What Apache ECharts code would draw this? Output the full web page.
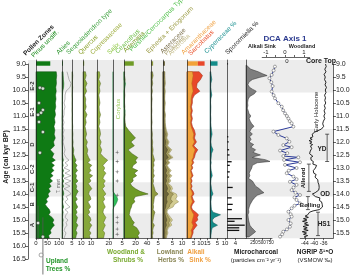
<!DOCTYPE html>
<html>
<head>
<meta charset="utf-8">
<title>Pollen diagram</title>
<style>html,body{margin:0;padding:0;background:#fff;}</style>
</head>
<body>
<div id="main" style="width:350px;height:278px;"></div>
<script src="https://cdn.jsdelivr.net/npm/echarts@6/dist/echarts.min.js"></script>
<script>
// ---- data ----
var ages = [9.3, 9.45, 9.6, 9.75, 9.9, 10.05, 10.2, 10.35, 10.5, 10.65, 10.8, 10.95, 11.1, 11.25, 11.4, 11.55, 11.7, 11.85, 12.0, 12.15, 12.3, 12.45, 12.6,
  12.7, 12.8, 12.9, 13.0, 13.1, 13.2, 13.3, 13.4, 13.5, 13.6, 13.7, 13.8, 13.9, 14.0, 14.1, 14.2, 14.3, 14.4, 14.5, 14.6, 14.7, 14.8, 14.9, 15.0, 15.1, 15.2, 15.3, 15.4, 15.5, 15.6, 15.7];
var trees = [88, 90, 88, 89, 86, 88, 85, 87, 84, 86, 82, 85, 80, 83, 78, 82, 79, 84, 76, 80, 62, 78, 70,
  84, 66, 80, 68, 78, 64, 74, 60, 72, 58, 66, 55, 62, 52, 56, 44, 50, 40, 48, 58, 62, 55, 70, 78, 72, 80, 70, 62, 66, 55, 58];
var abies = [0.5, 0.6, 0.7, 0.9, 0.8, 0.4, 0.3, 0.3, 0.2, 0.3, 0.2, 0.2, 0.1, 0.2, 0.1, 0.2, 0.1, 0.2, 0.1, 0.2, 0.3, 0.2, 0.4,
  0.7, 0.3, 0.6, 0.2, 0.8, 0.3, 0.9, 0.2, 0.9, 0.3, 0.8, 0.2, 0.7, 0.9, 0.4, 0.6, 0.3, 0.5, 0.8, 0.3, 0.6, 0.4, 0.3, 0.6, 0.4, 0.5, 0.3, 0.2, 0.4, 0.3, 0.2];
var sequoia = [0.5, 0.8, 0.6, 0.4, 0.7, 0.5, 0.3, 0.6, 0.4, 0.5, 0.3, 0.6, 0.4, 0.5, 0.8, 0.6, 1.0, 0.7, 1.2, 0.9, 2.0, 1.5, 3.0,
  4.5, 3.2, 5.5, 4.0, 6.0, 3.5, 5.0, 4.2, 6.5, 3.8, 5.2, 4.5, 6.8, 5.0, 4.0, 5.8, 3.6, 4.8, 6.2, 4.2, 5.5, 4.0, 6.0, 5.2, 4.4, 6.4, 5.0, 4.2, 5.6, 4.6, 4.0];
var quercus = [3, 4, 2.5, 5, 3, 4.5, 2, 3.5, 3, 4, 2.5, 5, 3, 4, 2.5, 3.5, 4.5, 3, 5.5, 4, 6, 5, 7,
  9, 6, 11, 8, 10, 7, 12, 8, 10, 6.5, 9, 11, 8, 7, 9, 10, 6, 8, 9.5, 7, 8.5, 6, 9, 10, 8, 11, 9, 7.5, 10, 8, 9];
var cupress = [4, 5, 3, 6, 4, 5, 3, 4, 5, 3.5, 4, 6, 4, 5, 3, 5, 6, 4, 7, 5, 8, 6, 12,
  18, 14, 10, 13, 11, 15, 12, 10, 14, 11, 13, 9, 12, 15, 11, 13, 10, 12, 14, 11, 10, 12, 15, 13, 11, 14, 12, 10, 13, 12, 11];
var salix = [0, 0, 0, 0, 0, 0, 0, 0, 0, 0, 0, 0, 0, 0, 0, 0, 0, 0, 0, 0, 0, 0, 0,
  0, 0, 0, 0, 0, 0, 0, 0, 0, 0, 0, 0, 0, 1.0, 2.0, 2.6, 2.2, 1.5, 0.5, 0, 0, 0, 0, 0, 0, 0, 0, 0, 0, 0, 0];
var artemisia = [1, 1, 2, 1.5, 1, 1, 1.5, 1, 1, 1.5, 1, 2, 1.5, 2, 3, 8, 14, 20, 12, 18, 7, 14, 24,
  20, 22, 16, 14, 24, 18, 22, 15, 16, 11, 14, 20, 28, 42, 20, 17, 19, 14, 13, 11, 10, 9, 12, 14, 18, 15, 22, 25, 27, 24, 26];
var purshia = [0, 0, 0, 2.5, 1.5, 0, 0, 0, 0, 0, 2, 1, 0, 0, 0, 0, 0, 0, 0, 0, 0, 0, 0,
  0, 0, 0, 0, 0, 0, 0, 0, 0, 0, 0, 0, 0, 0, 0, 0, 0, 0, 0, 0, 0, 0, 0, 0, 0, 0, 0, 0, 0, 0, 0];
var ephedra = [1, 1.5, 0.8, 1.2, 0.6, 1, 0.5, 0.8, 0.6, 0.5, 0.7, 0.5, 0.6, 0.8, 0.5, 0.7, 1, 0.8, 1.2, 1, 1.5, 1.2, 2,
  2.5, 1.8, 2.2, 1.5, 2, 1.6, 2.4, 1.5, 1.8, 1.4, 2, 2.6, 3, 5, 2.5, 2.2, 2, 1.6, 1.8, 1.5, 2.8, 2.2, 1.8, 1.5, 1.2, 2.4, 1.6, 1.2, 1.5, 1, 1.2];
var asteraceae = [0.4, 0.5, 0.3, 0.6, 0.4, 0.5, 0.3, 0.4, 0.5, 0.3, 0.4, 0.6, 0.4, 0.5, 0.6, 0.8, 1.2, 0.9, 1.6, 1.1, 2.4, 1.5, 2.8,
  1.2, 1.8, 1.0, 1.5, 2.0, 1.4, 2.2, 1.6, 1.9, 1.3, 2.0, 2.4, 1.8, 3.0, 2.0, 1.8, 2.2, 1.6, 1.5, 1.0, 0.9, 1.2, 1.6, 2.0, 1.5, 1.8, 1.2, 1.0, 1.1, 0.9, 0.8];
var poaceae = [0.4, 0.3, 0.5, 0.4, 0.3, 0.4, 0.5, 0.3, 0.4, 0.5, 0.3, 0.4, 0.5, 0.4, 0.5, 0.6, 0.8, 0.7, 1.0, 0.8, 1.4, 1.0, 1.6,
  0.9, 1.2, 0.8, 1.0, 1.5, 1.2, 1.6, 1.1, 1.4, 1.0, 1.5, 1.6, 1.4, 2.5, 2.4, 2.2, 2.8, 2.0, 1.8, 0.8, 0.7, 1.0, 1.4, 1.8, 1.5, 1.6, 1.0, 0.8, 0.9, 0.7, 0.6];
var ambrosia = [0.2, 0.2, 0.3, 0.2, 0.2, 0.3, 0.2, 0.2, 0.3, 0.2, 0.2, 0.3, 0.2, 0.3, 0.3, 0.4, 0.5, 0.4, 0.6, 0.5, 0.8, 0.6, 0.9,
  0.5, 0.6, 0.4, 0.6, 0.8, 0.6, 0.9, 0.7, 0.8, 0.6, 1.0, 1.0, 0.9, 1.5, 3.0, 2.6, 3.2, 2.4, 2.0, 0.6, 0.5, 0.7, 1.0, 1.2, 1.0, 1.2, 0.6, 0.5, 0.6, 0.5, 0.4];
var amaranth = [4, 4.5, 4, 3.5, 4, 4.5, 3.5, 3, 3, 2.5, 3, 2.5, 3, 2.5, 3, 4, 5, 4.5, 5.5, 4, 6, 5, 4.5,
  3.5, 4, 3, 3.5, 2.5, 3, 3.5, 2.5, 3, 2.5, 3, 2.5, 3.5, 4, 3, 3.5, 4, 3, 2.5, 3, 4, 5, 4.5, 4, 3.5, 4.5, 4, 3, 3.5, 3, 2.5];
var sarcobatus = [5, 7, 6, 4, 3, 5, 2, 1, 1, 0.8, 1, 0.8, 1, 0.8, 1, 1.5, 1.2, 1, 1.5, 1, 2, 1.2, 1,
  0.8, 1, 0.6, 0.8, 0.6, 0.8, 1, 0.6, 0.8, 0.5, 0.8, 0.6, 1, 1.2, 0.8, 1, 1.5, 1, 0.8, 1, 2.5, 3.5, 3, 4, 2.5, 3, 2, 1.5, 1, 0.8, 0.6];
var cyperaceae = [0.5, 0.8, 1.2, 0.6, 0.5, 0.8, 1.2, 0.5, 0.4, 0.6, 0.5, 0.4, 0.6, 0.5, 0.7, 1.0, 1.4, 0.8, 0.6, 0.9, 2.0, 1.0, 0.8,
  0.6, 0.8, 0.5, 0.6, 0.8, 1.2, 1.5, 0.8, 0.6, 0.5, 0.8, 1.0, 1.4, 2.0, 1.0, 0.8, 0.6, 0.7, 0.8, 1.0, 2.0, 7.0, 3.0, 1.5, 2.0, 5.0, 1.5, 1.0, 0.8, 0.6, 0.5];

// core-top sample, one value per panel (same order as the panel list)
var coreTop = [62, 0.5, 0, 1.5, 0, 0, 17, 1.5, 1, 8, 5, 0, 0];
var coreTopSarco = 5;

var corylusAges = [12.4, 12.75, 13.15, 13.5, 14.05, 14.9, 15.1, 15.35, 15.55];

var sporoAge = [9.0, 11.8, 12.0, 12.3, 12.5, 12.76, 12.9, 13.15, 13.35, 13.75, 14.15, 14.4, 14.6, 14.95, 15.05, 15.2, 15.3, 15.4];
var sporoVal = [0.5, 0.6, 0.8, 1.0, 1.2, 2.2, 1.3, 1.3, 1.0, 2.7, 2.2, 2.7, 2.3, 7.1, 3.6, 8.4, 5.8, 5.8];

var charAge = [9.05, 9.1, 9.2, 9.3, 9.38, 9.45, 9.52, 9.6, 9.7, 9.8, 9.9, 9.97, 10.05, 10.15, 10.25, 10.35, 10.5, 10.6, 10.7, 10.8,
  10.9, 11.0, 11.1, 11.2, 11.3, 11.4, 11.5, 11.6, 11.7, 11.8, 11.9, 12.0, 12.1, 12.2, 12.3, 12.4, 12.5, 12.55, 12.6, 12.68,
  12.75, 12.8, 12.9, 13.0, 13.1, 13.2, 13.3, 13.4, 13.5, 13.6, 13.7, 13.8, 13.88, 13.95, 14.05, 14.15, 14.25, 14.4, 14.5, 14.6,
  14.7, 14.8, 14.9, 15.0, 15.1, 15.2, 15.3, 15.38, 15.45, 15.55, 15.65];
var charVal = [20, 60, 140, 380, 520, 660, 420, 200, 90, 60, 110, 200, 320, 260, 120, 70, 50, 60, 40, 70,
  90, 150, 100, 130, 180, 250, 160, 120, 200, 110, 160, 100, 240, 150, 300, 220, 450, 300, 200, 600,
  750, 350, 200, 180, 140, 100, 120, 80, 200, 250, 300, 420, 480, 560, 350, 260, 200, 130, 100, 80,
  90, 60, 70, 80, 100, 120, 180, 250, 300, 200, 90];

var dcaAge = [9.1, 9.25, 9.42, 9.55, 9.7, 9.85, 10.06, 10.2, 10.32, 10.51, 10.64, 10.78, 10.9, 11.0, 11.1, 11.2, 11.28, 11.41, 11.6, 11.73,
  11.86, 11.99, 12.12, 12.2, 12.33, 12.43, 12.54, 12.59, 12.69, 12.78, 12.88, 13.0, 13.1, 13.2, 13.33, 13.43, 13.53, 13.65, 13.75, 13.85,
  13.95, 14.04, 14.13, 14.23, 14.36, 14.45, 14.55, 14.68, 14.78, 14.87, 15.0, 15.13, 15.26, 15.36, 15.45, 15.55, 15.64];
var dcaVal = [-0.53, -0.6, -0.7, -0.82, -0.72, -0.65, -0.7, -0.6, -0.53, -0.35, -0.17, -0.1, 0, 0.1, 0.18, 0.25, 0.35, 0.44, -0.61, -0.35,
  0.09, 0.23, -0.09, 0.35, -0.26, 0.12, -0.09, 0.7, -0.05, 0.79, 0, 0.61, 0.2, 0.09, 0.44, 0.61, 0.26, 0.61, 0.45, 0.35,
  0.55, 0.79, 0.5, 0.61, 0.79, 0.5, 0.35, 0.18, 0.3, 0.35, 0.18, 0.3, 0.26, 0.1, -0.09, -0.15, -0.26];

var ngripAge = [9.0, 9.1, 9.2, 9.3, 9.4, 9.5, 9.6, 9.7, 9.8, 9.9, 10.0, 10.1, 10.2, 10.3, 10.4, 10.5, 10.6, 10.7, 10.8, 10.9,
  11.0, 11.1, 11.2, 11.3, 11.4, 11.5, 11.55, 11.62, 11.7, 11.75, 11.8, 11.85, 11.9, 11.95, 12.0, 12.05, 12.1, 12.15, 12.2, 12.25,
  12.3, 12.35, 12.4, 12.45, 12.5, 12.55, 12.6, 12.65, 12.7, 12.75, 12.8, 12.85, 12.9, 12.95, 13.0, 13.05, 13.1, 13.15, 13.2, 13.25,
  13.3, 13.35, 13.4, 13.45, 13.5, 13.55, 13.6, 13.65, 13.7, 13.75, 13.8, 13.85, 13.9, 13.95, 14.0, 14.05, 14.1, 14.15, 14.2, 14.25,
  14.3, 14.35, 14.4, 14.45, 14.5, 14.55, 14.6, 14.65, 14.7, 14.75, 14.8, 14.85, 14.9, 14.95, 15.0, 15.05, 15.1, 15.15, 15.2, 15.25,
  15.3, 15.35, 15.4, 15.45, 15.5, 15.55, 15.6, 15.65, 15.7];
var ngripVal = [-35.2, -34.9, -35.5, -35.0, -35.8, -35.3, -35.6, -35.0, -35.4, -34.8, -35.3, -35.0, -35.6, -35.2, -35.5, -35.1, -35.7, -35.3, -35.8, -35.4,
  -35.9, -35.5, -36.1, -36.4, -36.0, -36.9, -37.5, -39.8, -40.9, -41.5, -40.6, -41.8, -40.9, -42.2, -41.0, -41.9, -40.7, -41.6, -42.3, -41.1,
  -40.5, -41.7, -40.9, -42.0, -41.2, -40.6, -41.5, -40.8, -41.3, -40.4, -39.8, -40.6, -39.0, -38.6, -39.5, -39.8, -40.4, -39.6, -40.2, -39.2,
  -38.8, -39.7, -39.0, -38.5, -39.2, -38.4, -38.9, -38.0, -38.7, -37.9, -38.5, -38.1, -38.8, -39.6, -40.8, -41.3, -39.5, -37.6, -37.0, -37.8,
  -36.9, -37.4, -36.6, -37.2, -36.5, -37.0, -37.8, -40.5, -42.0, -41.2, -42.8, -43.9, -42.5, -44.6, -43.1, -45.0, -42.9, -44.2, -42.4, -44.8,
  -43.0, -44.5, -42.6, -45.1, -43.3, -44.6, -42.8, -44.3, -43.5];

var zoneNames = ['E-2', 'E-1', 'D', 'C-2', 'C-1', 'B', 'A'];
var zoneMid = [9.85, 10.85, 12.1, 13.05, 13.75, 14.4, 15.2];
var bandStart = [8.85, 11.5, 13.55, 14.75];
var bandEnd = [10.1, 12.7, 14.1, 15.7];

var dateAge = [9.92, 9.95, 10.5, 10.77, 10.88, 10.96, 11.23, 11.62, 12.42, 15.12, 15.65];
var dateLo = [null, null, null, null, null, null, null, null, null, 14.45, 14.9];
var dateHi = [null, null, null, null, null, null, null, null, null, 15.75, 17.1];
var outlierAge = 16.35;

var periodStart = [11.7, 12.85, 14.1, 14.7];
var periodEnd = [12.75, 13.9, 14.6, 15.6];

var charTicks = [250, 500, 750];
var ngripTicks = [-44, -40, -36];

// ---- layout ----
var FONT = '"Liberation Sans", Arial, sans-serif';
var TOP = 60, BOT = 238.2, AGE_TOP = 8.85, AGE_BOT = 15.7;
var panels = [
  {left: 36, width: 23, max: 100, ticks: [0, 50, 100]},
  {left: 62, width: 10, max: 5, ticks: [5]},
  {left: 72, width: 11, max: 12, ticks: [10]},
  {left: 83, width: 14, max: 17.5, ticks: [10]},
  {left: 97, width: 16, max: 27, ticks: [20]},
  {left: 113, width: 11, max: 6, ticks: [5]},
  {left: 124, width: 27, max: 47, ticks: [20, 40]},
  {left: 151, width: 12, max: 8.5, ticks: [5]},
  {left: 163, width: 24, max: 12.6, ticks: [5, 10]},
  {left: 187, width: 23, max: 17, ticks: [5, 10, 15]},
  {left: 210, width: 17, max: 11.3, ticks: [5, 10]},
  {left: 227, width: 19, max: 9, ticks: [4]},
  {left: 246, width: 26, max: 812, ticks: charTicks, noLabel: true}
];
var fills = ['#0f7a14', '#2f8f2f', '#5e9a2c', '#86a73a', '#93b340', '#2fbf5a', '#6f9b26', '#8f9a40', '#6b6439', '#f2a33a', '#148c89', '#111', '#7e7e7e'];

var grids = [], xAxes = [], yAxes = [], series = [];
var axLine = {show: true, onZero: false, lineStyle: {color: '#222', width: 0.7}};

panels.forEach(function (p, i) {
  grids.push({left: p.left, width: p.width, top: TOP, height: BOT - TOP, containLabel: false, outerBoundsMode: 'none'});
  xAxes.push({gridIndex: i, type: 'value', min: 0, max: p.max, position: 'bottom', z: 3, axisLine: axLine,
    axisTick: {show: true, length: 2, customValues: p.ticks, lineStyle: {color: '#222', width: 0.7}},
    axisLabel: {show: !p.noLabel, fontSize: 6, margin: 2, color: '#222', fontFamily: FONT, customValues: p.ticks, hideOverlap: false},
    splitLine: {show: false}});
  yAxes.push({gridIndex: i, type: 'value', inverse: true, min: AGE_TOP, max: AGE_BOT, z: 3, axisLine: axLine,
    axisTick: {show: false}, axisLabel: {show: false}, splitLine: {show: false}});
});

function fillPoly(gi, xs, ys, fill, stroke, z) {
  return {type: 'custom', xAxisIndex: gi, yAxisIndex: gi, z: z || 2, silent: true, data: [0],
    renderItem: function (params, api) {
      var pts = [api.coord([0, ys[0]])];
      for (var i = 0; i < xs.length; i++) pts.push(api.coord([xs[i], ys[i]]));
      pts.push(api.coord([0, ys[ys.length - 1]]));
      return {type: 'polygon', shape: {points: pts}, style: {fill: fill, stroke: stroke, lineWidth: 0.5}};
    }};
}
function outline(gi, xs, ys, stroke, lw, z) {
  return {type: 'custom', xAxisIndex: gi, yAxisIndex: gi, z: z || 3, silent: true, data: [0],
    renderItem: function (params, api) {
      var pts = [];
      for (var i = 0; i < xs.length; i++) pts.push(api.coord([xs[i], ys[i]]));
      return {type: 'polyline', shape: {points: pts}, style: {fill: null, stroke: stroke, lineWidth: lw}};
    }};
}
function addArrays(a, b) { return a.map(function (v, i) { return v + b[i]; }); }

series.push(fillPoly(0, trees, ages, fills[0], '#0a4f0c'));
series.push(fillPoly(1, abies, ages, fills[1], '#1f5f1f'));
series.push(outline(1, abies.map(function (v) { return v * 5; }), ages, '#8a8a8a', 0.6)); // x5 exaggeration
series.push(fillPoly(2, sequoia, ages, fills[2], '#36561a'));
series.push(fillPoly(3, quercus, ages, fills[3], '#4c5e1c'));
series.push(fillPoly(4, cupress, ages, fills[4], '#55661f'));
series.push(fillPoly(5, salix, ages, fills[5], '#1d7a3a'));
series.push(fillPoly(6, artemisia, ages, fills[6], '#3b5510'));
series.push(fillPoly(6, purshia, ages, '#35c04a', '#1d7a3a', 3));
series.push(fillPoly(7, ephedra, ages, fills[7], '#55592a'));
var lowMid = addArrays(asteraceae, poaceae);
series.push(fillPoly(8, addArrays(lowMid, ambrosia), ages, '#d3cc92', '#8a8450'));
series.push(fillPoly(8, lowMid, ages, '#a89f5f', '#6b6439'));
series.push(fillPoly(8, asteraceae, ages, fills[8], '#4a4528'));
series.push(fillPoly(9, addArrays(amaranth, sarcobatus), ages, '#e8472a', '#9a2a14'));
series.push(fillPoly(9, amaranth, ages, fills[9], '#b0701a'));
series.push(fillPoly(10, cyperaceae, ages, fills[10], '#0c5654'));
series.push(fillPoly(12, charVal, charAge, fills[12], '#2a2a2a'));

// sporormiella bars
series.push({type: 'custom', xAxisIndex: 11, yAxisIndex: 11, z: 3, silent: true,
  data: sporoAge.map(function (a, i) { return [sporoVal[i], a]; }),
  renderItem: function (params, api) {
    var p0 = api.coord([0, api.value(1)]), p1 = api.coord([api.value(0), api.value(1)]);
    return {type: 'line', shape: {x1: p0[0], y1: p0[1], x2: p1[0], y2: p1[1]}, style: {stroke: '#111', lineWidth: 1.3}};
  }});

// core-top bars
coreTop.forEach(function (v, i) {
  if (!v) return;
  var parts = [[0, v, fills[i]]];
  if (i === 9) parts.push([v, v + coreTopSarco, '#e8472a']);
  series.push({type: 'custom', xAxisIndex: i, yAxisIndex: i, z: 3, silent: true, data: [0],
    renderItem: function (params, api) {
      return {type: 'group', children: parts.map(function (pt) {
        var a = api.coord([pt[0], 8.9]), b = api.coord([pt[1], 9.07]);
        return {type: 'rect', shape: {x: a[0], y: a[1], width: Math.max(b[0] - a[0], 1), height: b[1] - a[1]}, style: {fill: pt[2]}};
      })};
    }});
});

// Corylus stars
series.push({type: 'scatter', xAxisIndex: 5, yAxisIndex: 5, z: 4, silent: true,
  symbol: 'path://M5 0L6 4L10 5L6 6L5 10L4 6L0 5L4 4Z', symbolSize: 4.5,
  itemStyle: {color: '#555'},
  data: corylusAges.map(function (a) { return [2.3, a]; })});

// grid 13: age axis
var gi = 13;
grids.push({left: 28, width: 1, top: 64, height: 195, containLabel: false, outerBoundsMode: 'none'});
xAxes.push({gridIndex: gi, type: 'value', show: false});
yAxes.push({gridIndex: gi, type: 'value', inverse: true, min: 9, max: 16.5, interval: 0.5, position: 'left', z: 3,
  axisLine: axLine, axisTick: {show: true, length: 3, lineStyle: {color: '#222', width: 0.7}},
  axisLabel: {fontSize: 7, margin: 2, color: '#222', fontFamily: FONT, hideOverlap: false, formatter: function (v) { return v.toFixed(1); }},
  splitLine: {show: false}});

// grid 14: zone bands + zone labels
gi = 14;
grids.push({left: 28, width: 305, top: TOP, height: BOT - TOP, containLabel: false, outerBoundsMode: 'none'});
xAxes.push({gridIndex: gi, type: 'value', min: 0, max: 1, show: false});
yAxes.push({gridIndex: gi, type: 'value', inverse: true, min: AGE_TOP, max: AGE_BOT, show: false});
series.push({type: 'custom', xAxisIndex: gi, yAxisIndex: gi, z: 1, silent: true,
  data: bandStart.map(function (s, i) { return [0, s, bandEnd[i]]; }),
  renderItem: function (params, api) {
    var a = api.coord([0, api.value(1)]), b = api.coord([1, api.value(2)]);
    return {type: 'rect', shape: {x: a[0], y: a[1], width: b[0] - a[0], height: b[1] - a[1]}, style: {fill: '#ececec'}};
  }});
series.push({type: 'custom', xAxisIndex: gi, yAxisIndex: gi, z: 4, silent: true,
  data: zoneMid.map(function (m, i) { return [0, m, i]; }),
  renderItem: function (params, api) {
    var p = api.coord([0, api.value(1)]);
    return {type: 'text', x: p[0] + 4.5, y: p[1], rotation: Math.PI / 2,
      style: {text: zoneNames[api.value(2)], fill: '#333', font: 'bold 6px ' + FONT,
        align: 'center', verticalAlign: 'middle', textAlign: 'center', textVerticalAlign: 'middle'}};
  }});

// grid 15: dated levels
gi = 15;
grids.push({left: 36, width: 23, top: TOP, height: (17.1 - AGE_TOP) * 26, containLabel: false, outerBoundsMode: 'none'});
xAxes.push({gridIndex: gi, type: 'value', min: 0, max: 100, show: false});
yAxes.push({gridIndex: gi, type: 'value', inverse: true, min: AGE_TOP, max: 17.1, show: false});
var dateX = [17, 30, 13, 30, 22, 9, 13, 30, 17, 9, 30]; // horizontal placement only
series.push({type: 'custom', xAxisIndex: gi, yAxisIndex: gi, z: 4, silent: true,
  data: dateAge.map(function (a, i) { return [dateX[i], a, dateLo[i] || a, dateHi[i] || a]; }),
  renderItem: function (params, api) {
    var a = api.coord([api.value(0), api.value(2)]), b = api.coord([api.value(0), api.value(3)]);
    return {type: 'line', shape: {x1: a[0], y1: a[1], x2: b[0], y2: b[1]}, style: {stroke: '#555', lineWidth: 0.8}};
  }});
series.push({type: 'scatter', xAxisIndex: gi, yAxisIndex: gi, z: 5, silent: true, symbolSize: 3.5,
  itemStyle: {color: '#fff', borderColor: '#222', borderWidth: 0.6},
  data: dateAge.map(function (a, i) { return [dateX[i], a]; })});
series.push({type: 'scatter', xAxisIndex: gi, yAxisIndex: gi, z: 5, silent: true, symbolSize: 4,
  itemStyle: {color: '#fff', borderColor: '#777', borderWidth: 0.8},
  data: [[22, outlierAge]]});

// grid 16: DCA axis 1
gi = 16;
var dcaTop = 57;
grids.push({left: 262.2, width: 47.5, top: dcaTop, height: BOT - dcaTop, containLabel: false, outerBoundsMode: 'none'});
xAxes.push({gridIndex: gi, type: 'value', min: -1.2, max: 1.3, position: 'top', z: 3, axisLine: axLine,
  axisTick: {show: true, length: 2, customValues: [-1, -0.5, 0, 0.5, 1], lineStyle: {color: '#222', width: 0.7}},
  axisLabel: {fontSize: 6, margin: 2, color: '#222', fontFamily: FONT, customValues: [-1, 0, 1], hideOverlap: false},
  splitLine: {show: false}});
yAxes.push({gridIndex: gi, type: 'value', inverse: true, min: 9 - (64 - dcaTop) / 26, max: AGE_BOT, show: false});
series.push({type: 'line', xAxisIndex: gi, yAxisIndex: gi, z: 5, silent: true,
  symbol: 'circle', symbolSize: 3, showAllSymbol: true,
  lineStyle: {color: '#2b3a98', width: 1},
  itemStyle: {color: '#fff', borderColor: '#666', borderWidth: 0.6},
  data: dcaAge.map(function (a, i) { return [dcaVal[i], a]; })});

// grid 17: NGRIP
gi = 17;
grids.push({left: 300.2, width: 32.8, top: 64, height: BOT - 64, containLabel: false, outerBoundsMode: 'none'});
xAxes.push({gridIndex: gi, type: 'value', min: -46, max: -32, position: 'bottom', z: 3, axisLine: axLine,
  axisTick: {show: true, length: 2, customValues: ngripTicks, lineStyle: {color: '#222', width: 0.7}},
  axisLabel: {show: false},
  splitLine: {show: false}});
yAxes.push({gridIndex: gi, type: 'value', inverse: true, min: 9, max: AGE_BOT, interval: 0.5, position: 'right', z: 3,
  axisLine: axLine, axisTick: {show: true, length: 3, lineStyle: {color: '#222', width: 0.7}},
  axisLabel: {fontSize: 7, margin: 3, color: '#222', fontFamily: FONT, hideOverlap: false, formatter: function (v) { return v.toFixed(1); }},
  splitLine: {show: false}});
series.push({type: 'line', xAxisIndex: gi, yAxisIndex: gi, z: 4, silent: true, symbol: 'none',
  lineStyle: {color: '#111', width: 0.9},
  data: ngripAge.map(function (a, i) { return [ngripVal[i], a]; })});
var bracketX = [-34.5, -42.3, -42.7, -38.4]; // horizontal placement of period brackets
series.push({type: 'custom', xAxisIndex: gi, yAxisIndex: gi, z: 4, silent: true,
  data: periodStart.map(function (s, i) { return [bracketX[i], s, periodEnd[i]]; }),
  renderItem: function (params, api) {
    var a = api.coord([api.value(0), api.value(1)]), b = api.coord([api.value(0), api.value(2)]);
    var st = {stroke: '#222', lineWidth: 0.7};
    return {type: 'group', children: [
      {type: 'line', shape: {x1: a[0], y1: a[1], x2: b[0], y2: b[1]}, style: st},
      {type: 'line', shape: {x1: a[0] - 2, y1: a[1], x2: a[0] + 2, y2: a[1]}, style: st},
      {type: 'line', shape: {x1: b[0] - 2, y1: b[1], x2: b[0] + 2, y2: b[1]}, style: st}
    ]};
  }});

// ---- text ----
function txt(x, y, s, o) {
  o = o || {};
  var al = o.align || 'center', va = o.va || 'middle';
  return {type: 'text', x: x, y: y, rotation: o.rot || 0, z: 100, silent: true,
    style: {text: s, fill: o.color || '#222', font: (o.bold ? 'bold ' : '') + (o.size || 7) + 'px ' + FONT,
      align: al, verticalAlign: va, textAlign: al, textVerticalAlign: va}};
}
var R = Math.PI / 4;
var texts = [
  txt(27, 57, 'Pollen Zones', {rot: R, align: 'left', va: 'bottom', bold: true, size: 6.5}),
  txt(35, 59, 'Pinus undiff.', {rot: R, align: 'left', va: 'bottom', color: '#1a8a1a', size: 6.5}),
  txt(60, 56, 'Abies', {rot: R, align: 'left', va: 'bottom', color: '#2e962e', size: 6.5}),
  txt(70, 56, 'Sequoiadendron type', {rot: R, align: 'left', va: 'bottom', color: '#3a9e3a', size: 6.5}),
  txt(82, 56, 'Quercus', {rot: R, align: 'left', va: 'bottom', color: '#8aa12a', size: 6.5}),
  txt(94, 56, 'Cupressaceae', {rot: R, align: 'left', va: 'bottom', color: '#9bab3a', size: 6.5}),
  txt(111, 56, 'Salix', {rot: R, align: 'left', va: 'bottom', color: '#8cc63f', size: 6.5}),
  txt(119, 55, 'Ceanothus', {rot: R, align: 'left', va: 'bottom', color: '#6cbd45', size: 6.5}),
  txt(127, 54, 'Artemisia', {rot: R, align: 'left', va: 'bottom', color: '#7c9a2a', size: 6.5}),
  txt(133, 53, 'Purshia/Cercocarpus Type', {rot: R, align: 'left', va: 'bottom', color: '#53c04d', size: 6.5}),
  txt(150, 55, 'Ephedra + Eriogonum', {rot: R, align: 'left', va: 'bottom', color: '#9a9a42', size: 6.5}),
  txt(164, 55, 'Asteraceae', {rot: R, align: 'left', va: 'bottom', color: '#7a6e4a', size: 6.5}),
  txt(168, 57, 'Poaceae', {rot: R, align: 'left', va: 'bottom', color: '#a89e70', size: 6.5}),
  txt(172, 57, 'Ambrosia', {rot: R, align: 'left', va: 'bottom', color: '#c8c090', size: 6.5}),
  txt(185, 56, 'Amaranthaceae', {rot: R, align: 'left', va: 'bottom', color: '#f0a040', size: 6.5}),
  txt(192, 57, 'Sarcobatus', {rot: R, align: 'left', va: 'bottom', color: '#e8502a', size: 6.5}),
  txt(208, 55, 'Cyperaceae %', {rot: R, align: 'left', va: 'bottom', color: '#1a9090', size: 6.5}),
  txt(229, 56, 'Sporormiella %', {rot: R, align: 'left', va: 'bottom', color: '#222', size: 6.5}),
  txt(6, 157, 'Age (cal kyr BP)', {rot: Math.PI / 2, bold: true, size: 7}),
  txt(58.5, 186, 'T. mert', {rot: Math.PI / 2, size: 4.5, color: '#666'}),
  txt(118, 109, 'Corylus', {rot: Math.PI / 2, size: 6, color: '#9acd5a'}),
  txt(57, 261, 'Upland', {bold: true, size: 6.5, color: '#23962a'}),
  txt(58, 269, 'Trees %', {bold: true, size: 6.5, color: '#23962a'}),
  txt(126, 252, 'Woodland &', {bold: true, size: 6.5, color: '#7aaa30'}),
  txt(128, 260, 'Shrubs %', {bold: true, size: 6.5, color: '#7aaa30'}),
  txt(170, 252, 'Lowland', {bold: true, size: 6.5, color: '#8a8655'}),
  txt(171, 260, 'Herbs %', {bold: true, size: 6.5, color: '#8a8655'}),
  txt(196, 252, 'Alkali', {bold: true, size: 6.5, color: '#f0a040'}),
  txt(200, 260, 'Sink %', {bold: true, size: 6.5, color: '#f0a040'}),
  txt(256, 252, 'Microcharcoal', {bold: true, size: 6.5}),
  txt(256, 260, '(particles cm\u207b\u00b2 yr\u207b\u00b9)', {size: 6}),
  txt(315, 252, 'NGRIP \u03b4\u00b9\u2078O', {bold: true, size: 6.5}),
  txt(315, 260, '(VSMOW \u2030)', {size: 6}),
  txt(285, 39, 'DCA Axis 1', {bold: true, size: 8, color: '#2b3a8f'}),
  txt(262, 46, 'Alkali Sink', {bold: true, size: 5.5}),
  txt(302, 46, 'Woodland', {bold: true, size: 5.5}),
  txt(287, 61, '0', {size: 6}),
  txt(321, 61, 'Core Top', {bold: true, size: 7}),
  txt(316, 112, 'Early Holocene', {rot: Math.PI / 2, size: 6}),
  txt(322, 149, 'YD', {bold: true, size: 6.5}),
  txt(303, 178, 'Aller\u00f8d', {rot: Math.PI / 2, bold: true, size: 6}),
  txt(325, 194, 'OD', {bold: true, size: 6.5}),
  txt(310, 205, 'B\u00f8lling', {bold: true, size: 6}),
  txt(324, 224, 'HS1', {bold: true, size: 6.5})
];

var chart = echarts.init(document.getElementById('main'));
chart.setOption({
  animation: false,
  backgroundColor: '#fff',
  textStyle: {fontFamily: FONT},
  grid: grids,
  xAxis: xAxes,
  yAxis: yAxes,
  series: series,
  graphic: {elements: texts}
});

// crowded tick labels (charcoal, NGRIP): place them at the axes' own pixel positions
charTicks.forEach(function (v) {
  texts.push(txt(chart.convertToPixel({xAxisIndex: 12}, v), BOT + 5, String(v), {size: 4.5}));
});
ngripTicks.forEach(function (v) {
  texts.push(txt(chart.convertToPixel({xAxisIndex: 17}, v), BOT + 5, String(v), {size: 5.5}));
});
chart.setOption({graphic: {elements: texts}});
</script>
</body>
</html>
